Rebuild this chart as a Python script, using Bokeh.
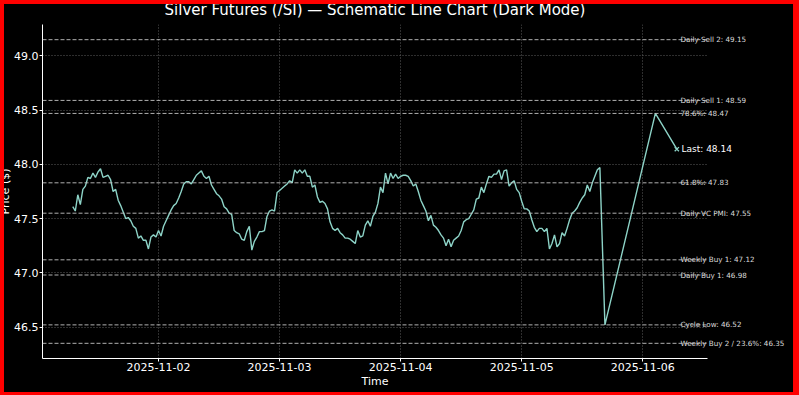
import pandas as pd
from bokeh.plotting import figure
from bokeh.layouts import column
from bokeh.models import (ColumnDataSource, Span, FixedTicker, LinearAxis,
                          DatetimeTickFormatter, PrintfTickFormatter, Range1d)
from bokeh.embed import file_html
from bokeh.resources import INLINE

# ---------------- data ----------------
title_text = "Silver Futures (/SI) \u2014 Schematic Line Chart (Dark Mode)"
wave_start = "2025-11-01 07:00"
wave_step = "30min"
wave_values = [
    47.61, 47.57, 47.72, 47.63, 47.77, 47.80, 47.88, 47.87, 47.92, 47.88,
    47.93, 47.96, 47.88, 47.89, 47.90, 47.86, 47.75, 47.77, 47.67, 47.62,
    47.56, 47.50, 47.51, 47.48, 47.43, 47.41, 47.32, 47.34, 47.30, 47.30,
    47.22, 47.33, 47.35, 47.33, 47.39, 47.34, 47.43, 47.48, 47.53, 47.58,
    47.62, 47.64, 47.69, 47.75, 47.82, 47.84, 47.84, 47.82, 47.86, 47.90,
    47.92, 47.94,
    47.89, 47.87, 47.89, 47.81, 47.77, 47.73, 47.71, 47.68, 47.61, 47.59,
    47.55, 47.54, 47.39, 47.37, 47.36, 47.31, 47.30, 47.38, 47.43, 47.21,
    47.29, 47.33, 47.38, 47.38, 47.39, 47.52, 47.57, 47.58, 47.57, 47.74,
    47.76, 47.78, 47.80, 47.82, 47.85, 47.83, 47.95, 47.92, 47.95, 47.92,
    47.95, 47.89, 47.89, 47.79, 47.81, 47.70, 47.65, 47.66, 47.64, 47.59,
    47.47,
    47.41, 47.39, 47.41, 47.37, 47.35, 47.32, 47.32, 47.31, 47.29, 47.27,
    47.39, 47.33, 47.34, 47.44, 47.48, 47.43, 47.52, 47.56, 47.64, 47.79,
    47.74, 47.92, 47.82, 47.92, 47.87, 47.91, 47.87, 47.89, 47.90, 47.90,
    47.89, 47.85, 47.80, 47.82, 47.75, 47.67, 47.62, 47.57, 47.48, 47.53,
    47.44, 47.42, 47.39, 47.35, 47.32, 47.25, 47.31, 47.24, 47.30, 47.32,
    47.34, 47.39,
    47.47, 47.49, 47.50, 47.54, 47.58, 47.68, 47.69, 47.79, 47.74, 47.82,
    47.89, 47.88, 47.91, 47.91, 47.95, 47.86, 47.94, 47.95, 47.80, 47.83,
    47.85, 47.77, 47.74, 47.66, 47.59, 47.59, 47.57, 47.49, 47.42, 47.38,
    47.41, 47.41, 47.38, 47.41, 47.22, 47.27, 47.35, 47.24, 47.27, 47.37,
    47.34, 47.41, 47.49, 47.55, 47.57, 47.60, 47.65, 47.69, 47.72, 47.81,
    47.75, 47.83, 47.89, 47.95, 47.97,
]
swing_times = ["2025-11-05 16:30", "2025-11-06 02:30", "2025-11-06 06:45"]
swing_values = [46.52, 48.47, 48.14]

level_names = ["Daily Sell 2", "Daily Sell 1", "78.6%", "61.8%", "Daily VC PMI",
               "Weekly Buy 1", "Daily Buy 1", "Cycle Low", "Weekly Buy 2 / 23.6%"]
level_values = [49.15, 48.59, 48.47, 47.83, 47.55, 47.12, 46.98, 46.52, 46.35]

x_tick_labels = ["2025-11-02", "2025-11-03", "2025-11-04", "2025-11-05", "2025-11-06"]
y_ticks = [46.5, 47.0, 47.5, 48.0, 48.5, 49.0]

# ---------------- build ----------------
LINE = "#8dd3c7"
FONT = "DejaVu Sans"

times = list(pd.date_range(wave_start, periods=len(wave_values), freq=wave_step)) + \
    [pd.Timestamp(t) for t in swing_times]
prices = wave_values + swing_values
src = ColumnDataSource(dict(t=times, v=prices))

last_t = times[-1]
last_v = prices[-1]

x_start = pd.Timestamp("2025-11-01 01:00")
x_end = pd.Timestamp("2025-11-06 12:50")

# canvas is drawn 6px left and 7px up on the page; the red frame comes from the parent
p = figure(width=799, height=402, x_axis_type="datetime",
           x_range=Range1d(x_start, x_end), y_range=Range1d(46.21, 49.29),
           output_backend="svg", toolbar_location=None,
           background_fill_color="black", border_fill_color="black")
p.min_border_left = 48
p.min_border_right = 86
p.min_border_top = 31
p.min_border_bottom = 37
p.outline_line_color = None

p.title.text = title_text
p.title.align = "center"
p.title.text_color = "white"
p.title.text_font = FONT
p.title.text_font_style = "normal"
p.title.text_font_size = "15px"
p.title.standoff = 11

for g in (p.xgrid, p.ygrid):
    g.grid_line_color = "#5c5c5c"
    g.grid_line_dash = "1 2"
    g.grid_line_width = 1

for lv in level_values:
    p.add_layout(Span(location=lv, dimension="width", line_color="#c4c4c4",
                      line_dash="4 2", line_width=0.9))

p.line("t", "v", source=src, line_color=LINE, line_width=1.4)
p.scatter(x=[last_t], y=[last_v], marker="x", size=6, line_color=LINE, line_width=1.3)

# level labels as right-hand axes whose labels sit over the frame
lvl_axis = LinearAxis(ticker=FixedTicker(ticks=level_values),
                      major_label_overrides={v: f"{n}: {v:.2f}" for n, v in zip(level_names, level_values)})
last_axis = LinearAxis(ticker=FixedTicker(ticks=[last_v]),
                       major_label_overrides={last_v: f"Last: {last_v:.2f}"})
for ax, size, col, so in ((lvl_axis, "7.2px", "#dcdcdc", -27), (last_axis, "9px", "white", -106)):
    ax.axis_line_color = None
    ax.major_tick_line_color = None
    ax.minor_tick_line_color = None
    ax.major_tick_out = 0
    ax.major_tick_in = 0
    ax.major_label_standoff = so
    ax.major_label_text_font = FONT
    ax.major_label_text_font_size = size
    ax.major_label_text_color = col
    p.add_layout(ax, "right")

tick_ms = [pd.Timestamp(s).value // 10**6 for s in x_tick_labels]
xax = p.below[0]
yax = p.left[0]
xax.ticker = FixedTicker(ticks=tick_ms)
fmt = "%Y-%m-%d"
xax.formatter = DatetimeTickFormatter(
    milliseconds=fmt, seconds=fmt, minsec=fmt, minutes=fmt, hourmin=fmt,
    hours=fmt, days=fmt, months=fmt, years=fmt)
yax.ticker = FixedTicker(ticks=y_ticks)
yax.formatter = PrintfTickFormatter(format="%.1f")
xax.axis_label = "Time"
yax.axis_label = "Price ($)"
for ax in (xax, yax):
    ax.axis_line_color = "white"
    ax.axis_line_width = 1
    ax.major_tick_line_color = "white"
    ax.major_tick_out = 3
    ax.major_tick_in = 0
    ax.minor_tick_line_color = None
    ax.major_label_text_color = "white"
    ax.major_label_text_font = FONT
    ax.major_label_text_font_size = "11px"
    ax.axis_label_text_color = "white"
    ax.axis_label_text_font = FONT
    ax.axis_label_text_font_size = "11px"
    ax.axis_label_text_font_style = "normal"
xax.major_label_standoff = 1
xax.axis_label_standoff = 1
yax.major_label_standoff = 1
yax.axis_label_standoff = -1

p.margin = (-7, 0, 0, 0)
p.styles = {"background-color": "black", "transform": "translateX(-6px)",
            "clip-path": "inset(11px 0px 3px 10px)"}
page = column(p, styles={"background-color": "red"})

open("out.html", "w").write(file_html(page, INLINE))
